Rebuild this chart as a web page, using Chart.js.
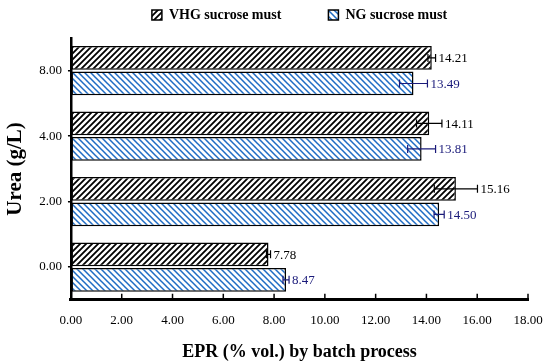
<!DOCTYPE html>
<html>
<head>
<meta charset="utf-8">
<script src="https://cdn.jsdelivr.net/npm/chart.js@4.4.1/dist/chart.umd.min.js"></script>
<style>
  html, body { margin: 0; padding: 0; background: #fff; }
  #wrap { width: 546px; height: 363px; }
</style>
</head>
<body>
<div id="wrap"><canvas id="myChart"></canvas></div>
<script>
// urea levels (top to bottom) and EPR values
const ureaLabels = ['8.00', '4.00', '2.00', '0.00'];
const vhgValues = [14.21, 14.11, 15.16, 7.78];
const ngValues = [13.49, 13.81, 14.50, 8.47];
// error bar half widths, estimated
const vhgErrors = [0.15, 0.5, 0.85, 0.08];
const ngErrors = [0.55, 0.55, 0.2, 0.12];
const xTicks = [0, 2, 4, 6, 8, 10, 12, 14, 16, 18];

const FONT = "'Liberation Serif', 'Times New Roman', serif";
const NG_BLUE = '#1f6cc4';
const NG_TEXT = '#1a1a7a';

// hatch fills
function makeHatch(color, forward, width) {
    const c = document.createElement('canvas');
    c.width = 6; c.height = 6;
    const g = c.getContext('2d');
    g.fillStyle = '#fff';
    g.fillRect(0, 0, 6, 6);
    g.strokeStyle = color;
    g.lineWidth = width;
    g.beginPath();
    if (forward) {
        g.moveTo(-1, 7); g.lineTo(7, -1);
        g.moveTo(-4, 4); g.lineTo(4, -4);
        g.moveTo(2, 10); g.lineTo(10, 2);
    } else {
        g.moveTo(-1, -1); g.lineTo(7, 7);
        g.moveTo(-4, 2); g.lineTo(4, 10);
        g.moveTo(2, -4); g.lineTo(10, 4);
    }
    g.stroke();
    return g.createPattern(c, 'repeat');
}

const ctx = document.getElementById('myChart').getContext('2d');
const vhgFill = makeHatch('#000', true, 1.8);
const ngFill = makeHatch(NG_BLUE, false, 1.5);

// wide spacing between legend items, but keep the legend box short
const legendFit = {
    id: 'legendFit',
    beforeInit(chart) {
        const fit = chart.legend.fit;
        chart.legend.fit = function () {
            fit.bind(chart.legend)();
            this.height = 77;
        };
    }
};

// error bars + value labels
const errorBars = {
    id: 'errorBars',
    afterDatasetsDraw(chart) {
        const c = chart.ctx;
        const xs = chart.scales.x;
        const errs = [vhgErrors, ngErrors];
        const colors = ['#000', NG_TEXT];
        chart.data.datasets.forEach((ds, di) => {
            const meta = chart.getDatasetMeta(di);
            meta.data.forEach((bar, i) => {
                const v = ds.data[i];
                const e = errs[di][i];
                const x1 = xs.getPixelForValue(v - e);
                const x2 = xs.getPixelForValue(v + e);
                const y = bar.y;
                c.save();
                c.strokeStyle = colors[di];
                c.lineWidth = 1.2;
                c.beginPath();
                c.moveTo(x1, y); c.lineTo(x2, y);
                c.moveTo(x1, y - 4); c.lineTo(x1, y + 4);
                c.moveTo(x2, y - 4); c.lineTo(x2, y + 4);
                c.stroke();
                c.fillStyle = colors[di];
                c.font = '13px ' + FONT;
                c.textBaseline = 'middle';
                c.textAlign = 'left';
                c.fillText(v.toFixed(2), x2 + 3, y + 1);
                c.restore();
            });
        });
    }
};

// inward tick marks on the x axis
const xInnerTicks = {
    id: 'xInnerTicks',
    afterDraw(chart) {
        const c = chart.ctx;
        const xs = chart.scales.x;
        const yb = chart.chartArea.bottom;
        c.save();
        c.strokeStyle = '#000';
        c.lineWidth = 1.5;
        c.beginPath();
        xTicks.forEach(t => {
            const px = xs.getPixelForValue(t);
            c.moveTo(px, yb);
            c.lineTo(px, yb - 6);
        });
        c.stroke();
        c.restore();
    }
};

const myChart = new Chart(ctx, {
    type: 'bar',
    data: {
        labels: ureaLabels,
        datasets: [{
            label: 'VHG sucrose must',
            data: vhgValues,
            backgroundColor: vhgFill,
            borderColor: '#000',
            borderWidth: 1.5,
            borderSkipped: false,
        }, {
            label: 'NG sucrose must',
            data: ngValues,
            backgroundColor: ngFill,
            borderColor: '#000',
            borderWidth: 1.5,
            borderSkipped: false,
        }],
    },
    options: {
        indexAxis: 'y',
        responsive: true,
        maintainAspectRatio: false,
        animation: false,
        categoryPercentage: 0.78,
        barPercentage: 0.93,
        layout: { padding: { left: 3, right: 2, top: -39, bottom: 0 } },
        plugins: {
            legend: {
                position: 'top',
                fullSize: false,
                labels: {
                    boxWidth: 10,
                    boxHeight: 10,
                    color: '#000',
                    font: { family: FONT, size: 14, weight: 'bold' },
                    padding: 47,
                },
            },
            tooltip: { enabled: false },
        },
        scales: {
            x: {
                min: 0,
                max: 18,
                afterBuildTicks(axis) {
                    axis.ticks = xTicks.map(v => ({ value: v }));
                },
                afterFit(axis) {
                    axis.paddingRight = 18;
                },
                ticks: {
                    color: '#000',
                    padding: 13,
                    font: { family: FONT, size: 13 },
                    callback: v => Number(v).toFixed(2),
                },
                grid: { drawOnChartArea: false, drawTicks: false },
                border: { display: true, color: '#000', width: 3 },
                title: {
                    display: true,
                    text: 'EPR (% vol.) by batch process',
                    color: '#000',
                    font: { family: FONT, size: 18, weight: 'bold' },
                    padding: { top: 0, bottom: 0 },
                },
            },
            y: {
                ticks: {
                    color: '#000',
                    padding: 6,
                    font: { family: FONT, size: 13 },
                },
                grid: { drawOnChartArea: false, offset: false, drawTicks: true, tickLength: 3, color: '#000', lineWidth: 1.5 },
                border: { display: true, color: '#000', width: 2.5 },
                title: {
                    display: true,
                    text: 'Urea (g/L)',
                    color: '#000',
                    font: { family: FONT, size: 21, weight: 'bold' },
                    padding: { top: 0, bottom: 5 },
                },
            },
        },
    },
    plugins: [legendFit, errorBars, xInnerTicks],
});
</script>
</body>
</html>
